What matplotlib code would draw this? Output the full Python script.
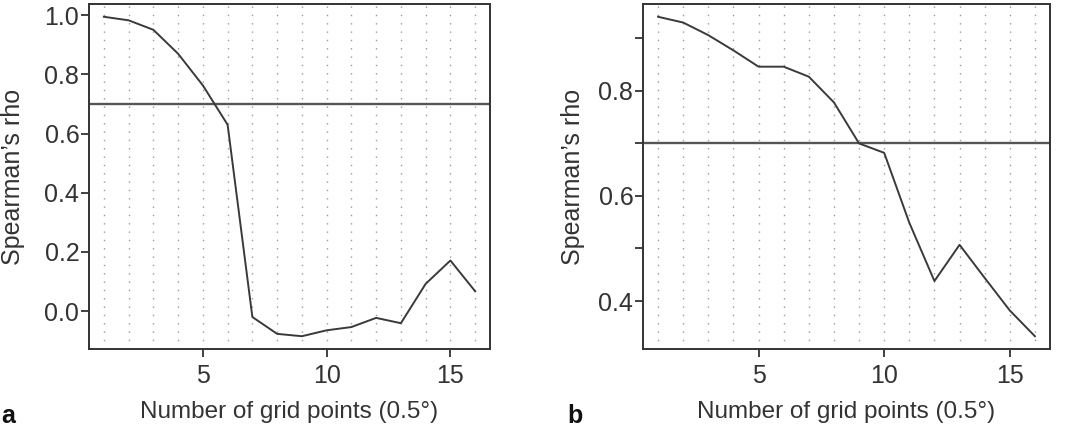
import matplotlib
matplotlib.use("Agg")
import matplotlib.pyplot as plt

# grid points (0.5 deg)
n_points = list(range(1, 17))

# panel a
rho_a = [0.995, 0.983, 0.951, 0.870, 0.763, 0.630, -0.020, -0.077, -0.085,
         -0.065, -0.054, -0.023, -0.041, 0.092, 0.171, 0.067]
# panel b
rho_b = [0.941, 0.930, 0.906, 0.877, 0.846, 0.846, 0.827, 0.778, 0.700,
         0.682, 0.549, 0.438, 0.507, 0.444, 0.382, 0.333]

threshold = 0.7

plt.rcParams['font.family'] = ['Liberation Sans', 'DejaVu Sans']
text_col = "#333333"
line_col = "#3a3a3a"

W, H = 1073, 429
fig = plt.figure(figsize=(W / 100, H / 100), dpi=100)


def px_axes(x0, x1, y0, y1):
    return fig.add_axes([x0 / W, 1 - y1 / H, (x1 - x0) / W, (y1 - y0) / H])


def style(ax, x, y, yticks, ylabels):
    for xi in x:
        ax.axvline(xi, color="#9a9a9a", lw=1.0, ls=(0, (1, 5)), zorder=1)
    ax.axhline(threshold, color="#555555", lw=1.7, zorder=2)
    ax.plot(x, y, color=line_col, lw=1.4, zorder=3)
    pad_x = (max(x) - min(x)) * 0.04
    pad_y = (max(y) - min(y)) * 0.04
    ax.set_xlim(min(x) - pad_x, max(x) + pad_x)
    ax.set_ylim(min(y) - pad_y, max(y) + pad_y)
    ax.set_xticks([5, 10, 15])
    ax.set_yticks(yticks)
    ax.set_yticklabels(ylabels)
    for s in ax.spines.values():
        s.set_color("#333333")
        s.set_linewidth(1.4)
    ax.tick_params(axis="both", direction="out", length=6, width=1.3,
                   colors="#333333", labelcolor=text_col, labelsize=18)
    ax.tick_params(axis="y", pad=1)
    ax.tick_params(axis="x", pad=5)


ax_a = px_axes(89, 490, 4, 349)
style(ax_a, n_points, rho_a, [0.0, 0.2, 0.4, 0.6, 0.8, 1.0],
      ["0.0", "0.2", "0.4", "0.6", "0.8", "1.0"])

ax_b = px_axes(643, 1050, 4, 349)
style(ax_b, n_points, rho_b, [0.4, 0.5, 0.6, 0.7, 0.8, 0.9],
      ["0.4", "", "0.6", "", "0.8", ""])

xlab = "Number of grid points (0.5\u00b0)"
ylab = "Spearman\u2019s rho"
fig.text((89 + 490) / 2 / W, 1 - 412 / H, xlab, ha="center", va="center",
         fontsize=17.5, color=text_col)
fig.text((643 + 1050) / 2 / W, 1 - 412 / H, xlab, ha="center", va="center",
         fontsize=17.5, color=text_col)
fig.text(13 / W, 1 - 177 / H, ylab, rotation=90, ha="center", va="center",
         fontsize=18, color=text_col)
fig.text(573 / W, 1 - 177 / H, ylab, rotation=90, ha="center", va="center",
         fontsize=18, color=text_col)

fig.text(1 / W, 1 - 423 / H, "a", ha="left", va="baseline",
         fontsize=18, fontweight="bold", color="#111111")
fig.text(567 / W, 1 - 423 / H, "b", ha="left", va="baseline",
         fontsize=18, fontweight="bold", color="#111111")

fig.savefig("out.png", dpi=100)
